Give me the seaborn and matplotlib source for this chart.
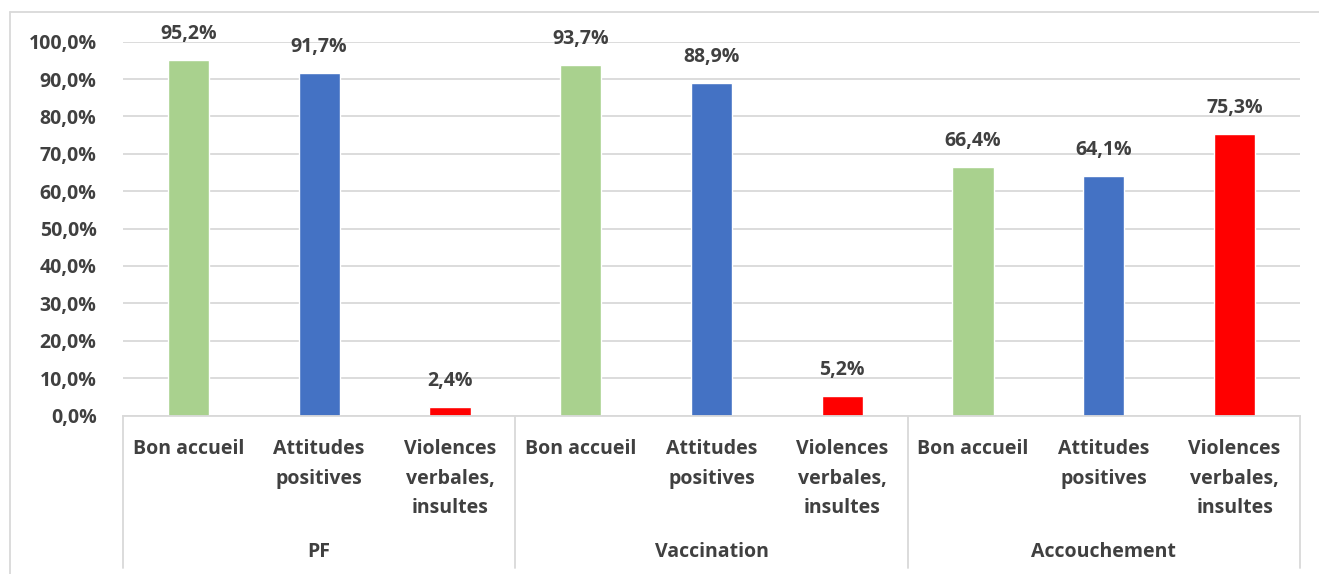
import matplotlib
matplotlib.use("Agg")
import matplotlib.pyplot as plt
import seaborn as sns
import pandas as pd
from matplotlib.lines import Line2D
from matplotlib.transforms import blended_transform_factory

groups = ["PF", "Vaccination", "Accouchement"]
items = ["Bon accueil", "Attitudes\npositives", "Violences\nverbales,\ninsultes"]
values = [95.2, 91.7, 2.4, 93.7, 88.9, 5.2, 66.4, 64.1, 75.3]
colors = ["#A9D18E", "#4472C4", "#FF0000"]
yticks = [0, 10, 20, 30, 40, 50, 60, 70, 80, 90, 100]

labels = [f"{g}|{i}" for g in groups for i in items]
df = pd.DataFrame({"label": labels, "value": values,
                   "item": [i for g in groups for i in items]})

sns.set_theme(style="white")
plt.rcParams["font.family"] = ["Open Sans", "DejaVu Sans"]
txt = "#404040"
fs = 14

fig = plt.figure(figsize=(13.19, 5.74), dpi=100)
ax = fig.add_axes([123/1319, 1 - 415.6/574, (1300-123)/1319, (415.6-41.6)/574])

sns.barplot(data=df, x="label", y="value", hue="item", palette=colors,
            dodge=False, width=0.315, legend=False, ax=ax, saturation=1)

ax.set_ylim(0, 100)
ax.set_xlim(-0.5, len(values) - 0.5)
ax.set_yticks(yticks)
ax.set_yticklabels([f"{v:.1f}%".replace(".", ",") for v in yticks],
                   fontsize=fs, fontweight="bold", color=txt)
ax.yaxis.grid(True, color="#D9D9D9", linewidth=1.3)
ax.set_axisbelow(True)
ax.tick_params(axis="y", length=0, pad=19)
ax.tick_params(axis="x", length=0, pad=17)
ax.set_xticks(range(len(values)))
ax.set_xticklabels([i for g in groups for i in items], fontsize=fs,
                   fontweight="bold", color=txt, linespacing=1.62, va="top")
ax.set_xlabel("")
ax.set_ylabel("")
for s in ["top", "right", "left"]:
    ax.spines[s].set_visible(False)
ax.spines["bottom"].set_color("#D9D9D9")
ax.spines["bottom"].set_linewidth(1.3)

for xi, v in enumerate(values):
    ax.text(xi, v + 6.9, f"{v:.1f}%".replace(".", ","),
            ha="center", va="center", fontsize=fs, fontweight="bold",
            color=txt, clip_on=False)

trans = blended_transform_factory(ax.transData, ax.transAxes)
depth = -(568 - 415.6) / 374
for xb in [-0.5, 2.5, 5.5, 8.5]:
    ax.add_line(Line2D([xb, xb], [0, depth], transform=trans, color="#D9D9D9",
                       linewidth=1.3, clip_on=False))
for k, g in enumerate(groups):
    ax.text(3*k + 1, -(552 - 415.6) / 374, g, transform=trans, ha="center",
            va="center", fontsize=fs, fontweight="bold", color=txt)

fig.add_artist(Line2D([10/1319, 1], [1 - 12/574, 1 - 12/574], color="#D9D9D9", linewidth=1.3))
fig.add_artist(Line2D([10/1319, 10/1319], [0, 1 - 12/574], color="#D9D9D9", linewidth=1.3))

fig.savefig("out.png", dpi=100)
